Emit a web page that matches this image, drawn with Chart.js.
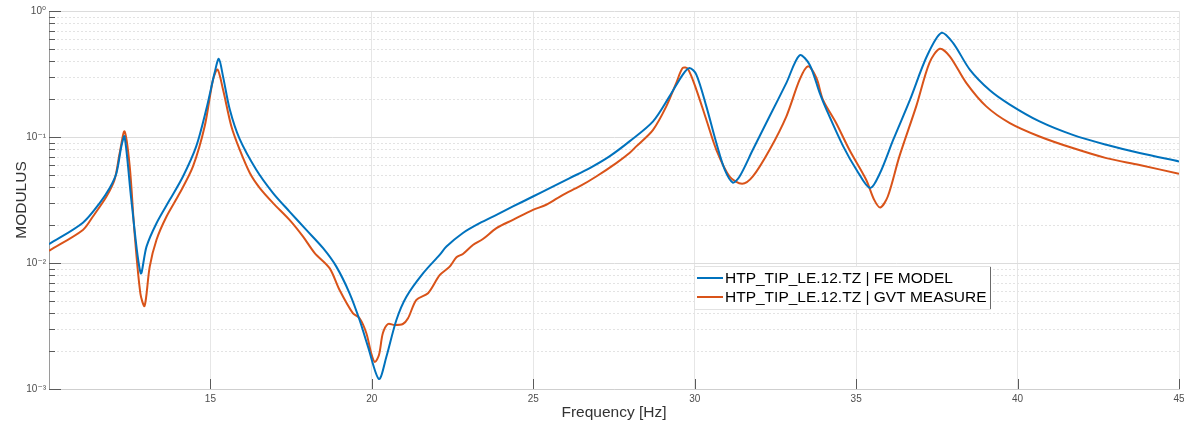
<!DOCTYPE html>
<html><head><meta charset="utf-8">
<script src="https://cdn.jsdelivr.net/npm/chart.js@4.4.1/dist/chart.umd.min.js"></script>
<style>html,body{margin:0;padding:0;background:#fff;}canvas{display:block;}</style>
</head><body>
<canvas id="c" width="1184" height="427"></canvas>
<script>
// ---- data ----
const feFreq = [10.0,11.05,11.57,11.88,12.09,12.24,12.34,12.55,12.84,13.02,13.33,13.74,14.15,14.56,14.87,15.13,15.26,15.39,15.6,15.9,16.42,16.94,17.45,17.97,18.49,18.9,19.31,19.62,19.88,20.22,20.45,20.76,21.07,21.59,22.1,22.31,22.82,23.34,23.86,24.37,24.99,25.51,26.13,26.75,27.36,27.98,28.71,29.22,29.63,29.84,30.05,30.36,30.67,30.93,31.18,31.39,31.8,32.32,32.84,33.25,33.56,33.87,34.08,34.6,35.01,35.43,35.74,36.15,36.67,37.19,37.64,38.0,38.52,39.14,39.76,40.68,41.71,42.75,43.78,45.0];
const feModulus = [0.0141,0.0209,0.0299,0.0393,0.0518,0.084,0.101,0.0317,0.0083,0.0135,0.0207,0.0317,0.0486,0.0842,0.165,0.323,0.417,0.303,0.165,0.097,0.055,0.0359,0.0256,0.0183,0.0131,0.00936,0.00575,0.00353,0.00217,0.0012,0.0018,0.00353,0.0054,0.0083,0.0116,0.0135,0.0173,0.0207,0.0241,0.0281,0.0337,0.0393,0.0472,0.0567,0.0702,0.0923,0.133,0.210,0.313,0.353,0.313,0.175,0.0896,0.055,0.0435,0.0486,0.0792,0.146,0.269,0.446,0.375,0.224,0.165,0.0842,0.055,0.0393,0.0518,0.0952,0.198,0.437,0.671,0.559,0.343,0.235,0.181,0.133,0.104,0.0868,0.0746,0.064];
const gvtFreq = [10.0,11.05,11.36,11.78,12.03,12.19,12.34,12.5,12.65,12.83,12.96,13.12,13.33,13.64,14.05,14.46,14.82,15.08,15.22,15.39,15.65,15.9,16.22,16.53,16.94,17.45,17.87,18.23,18.69,19.0,19.41,19.62,19.83,19.98,20.09,20.22,20.34,20.5,20.7,20.96,21.12,21.38,21.74,22.1,22.41,22.62,22.82,23.13,23.44,23.86,24.37,24.99,25.4,25.92,26.43,26.95,27.57,27.98,28.19,28.71,29.12,29.43,29.63,29.79,30.05,30.36,30.67,31.08,31.47,31.8,32.32,32.84,33.25,33.51,33.77,33.97,34.38,34.79,35.31,35.56,35.75,35.98,36.34,36.86,37.27,37.59,37.9,38.41,39.03,39.76,40.68,41.71,42.75,43.78,45.0];
const gvtModulus = [0.0125,0.0183,0.0234,0.0337,0.0458,0.0746,0.111,0.0584,0.0173,0.00575,0.00456,0.00936,0.0153,0.0234,0.0359,0.0584,0.121,0.285,0.343,0.238,0.121,0.08,0.0518,0.0393,0.0299,0.0220,0.0162,0.0120,0.0091,0.0061,0.0040,0.00364,0.00277,0.00192,0.00164,0.00186,0.00277,0.00328,0.00322,0.00328,0.00364,0.0051,0.00575,0.0080,0.00936,0.0111,0.0118,0.0139,0.0155,0.0189,0.0220,0.0264,0.0290,0.0348,0.0405,0.0486,0.0621,0.0746,0.0842,0.114,0.175,0.269,0.353,0.347,0.238,0.137,0.0792,0.0486,0.0425,0.0486,0.0792,0.146,0.285,0.364,0.294,0.198,0.129,0.0792,0.0458,0.0317,0.0276,0.0337,0.0702,0.175,0.388,0.501,0.437,0.269,0.175,0.129,0.101,0.0817,0.068,0.060,0.051];
const xTicks = [15,20,25,30,35,40,45];
const yTicks = [0.001,0.01,0.1,1];
const yTickLabels = ['10\u207B\u00B3','10\u207B\u00B2','10\u207B\u00B9','10\u2070'];
const seriesLabels = ['HTP_TIP_LE.12.TZ | FE MODEL','HTP_TIP_LE.12.TZ | GVT MEASURE'];
const seriesColors = ['#0072BD','#D95319'];
const xTitle = 'Frequency [Hz]';
const yTitle = 'MODULUS';

const FONT = '"Liberation Sans", Arial, "DejaVu Sans", sans-serif';
const toPts = (xs, ys) => xs.map((x, i) => ({x, y: ys[i]}));

const axesDecor = {
  id: 'axesDecor',
  beforeDatasetsDraw(chart) {
    const {ctx, chartArea: a, scales: {y}} = chart;
    ctx.save();
    ctx.strokeStyle = '#e3e3e3';
    ctx.lineWidth = 1;
    ctx.setLineDash([2, 2]);
    for (let d = -3; d < 0; d++) {
      for (let m = 2; m <= 9; m++) {
        const py = Math.round(y.getPixelForValue(m * Math.pow(10, d))) + 0.5;
        ctx.beginPath(); ctx.moveTo(a.left, py); ctx.lineTo(a.right, py); ctx.stroke();
      }
    }
    ctx.restore();
  },
  afterDatasetsDraw(chart) {
    const {ctx, chartArea: a, scales: {x, y}} = chart;
    ctx.save();
    ctx.strokeStyle = '#5a5a5a';
    ctx.lineWidth = 1;
    for (let d = -3; d <= 0; d++) {
      for (let m = 1; m <= 9; m++) {
        const v = m * Math.pow(10, d);
        if (v > 1) break;
        const py = Math.round(y.getPixelForValue(v)) + 0.5;
        const len = m === 1 ? 12 : 6;
        ctx.beginPath(); ctx.moveTo(a.left, py); ctx.lineTo(a.left + len, py); ctx.stroke();
      }
    }
    xTicks.forEach(t => {
      const px = Math.round(x.getPixelForValue(t)) + 0.5;
      ctx.beginPath(); ctx.moveTo(px, a.bottom); ctx.lineTo(px, a.bottom - 10); ctx.stroke();
    });
    ctx.restore();
  },
  afterDraw(chart) {
    const {ctx} = chart;
    const x0 = 694, y0 = 266, w = 296, h = 43;
    ctx.save();
    ctx.fillStyle = '#ffffff';
    ctx.fillRect(x0, y0, w, h);
    ctx.strokeStyle = '#e2e2e2';
    ctx.lineWidth = 1;
    ctx.strokeRect(x0 + 0.5, y0 + 0.5, w, h);
    ctx.strokeStyle = '#6a6a6a';
    ctx.beginPath(); ctx.moveTo(x0 + w + 0.5, y0 + 1); ctx.lineTo(x0 + w + 0.5, y0 + h); ctx.stroke();
    ctx.font = '15.5px ' + FONT;
    ctx.textBaseline = 'middle';
    ctx.fillStyle = '#000';
    seriesLabels.forEach((lab, i) => {
      const yy = y0 + 12 + i * 19;
      ctx.strokeStyle = seriesColors[i];
      ctx.lineWidth = 2;
      ctx.beginPath(); ctx.moveTo(x0 + 3, yy); ctx.lineTo(x0 + 29, yy); ctx.stroke();
      ctx.fillText(lab, x0 + 31, yy + 1);
    });
    ctx.restore();
  }
};

new Chart(document.getElementById('c'), {
  type: 'line',
  data: {
    datasets: [
      {label: seriesLabels[0], data: toPts(feFreq, feModulus), borderColor: seriesColors[0], borderWidth: 2, pointRadius: 0, tension: 0.3, fill: false},
      {label: seriesLabels[1], data: toPts(gvtFreq, gvtModulus), borderColor: seriesColors[1], borderWidth: 2, pointRadius: 0, tension: 0.3, fill: false}
    ]
  },
  options: {
    responsive: false,
    animation: false,
    events: [],
    layout: {padding: {top: 11, right: 0, bottom: 0, left: 0}},
    plugins: {legend: {display: false}, tooltip: {enabled: false}},
    scales: {
      x: {
        type: 'linear', min: 10, max: 45,
        afterBuildTicks: s => { s.ticks = xTicks.map(v => ({value: v})); },
        afterFit: s => { s.height = 38; s.paddingRight = 5; s.paddingLeft = 0; },
        grid: {color: '#e6e6e6', drawTicks: false},
        border: {display: true, color: '#cfcfcf', width: 1},
        ticks: {font: {size: 10, family: FONT}, color: '#4d4d4d', padding: 4, maxRotation: 0, autoSkip: false},
        title: {display: true, text: xTitle, font: {size: 15.5, family: FONT}, color: '#333', padding: {top: 0, bottom: 5}}
      },
      y: {
        type: 'logarithmic', min: 0.001, max: 1,
        afterBuildTicks: s => { s.ticks = yTicks.map(v => ({value: v})); },
        afterFit: s => { s.width = 49; },
        grid: {color: '#dcdcdc', drawTicks: false},
        border: {display: true, color: '#9a9a9a', width: 1},
        ticks: {font: {size: 10, family: FONT}, color: '#4d4d4d', padding: 3, autoSkip: false,
          callback: (v, i) => yTickLabels[i]},
        title: {display: true, text: yTitle, font: {size: 15.5, family: FONT}, color: '#333', padding: {top: 12, bottom: 0}}
      }
    }
  },
  plugins: [axesDecor]
});
</script>
</body></html>
